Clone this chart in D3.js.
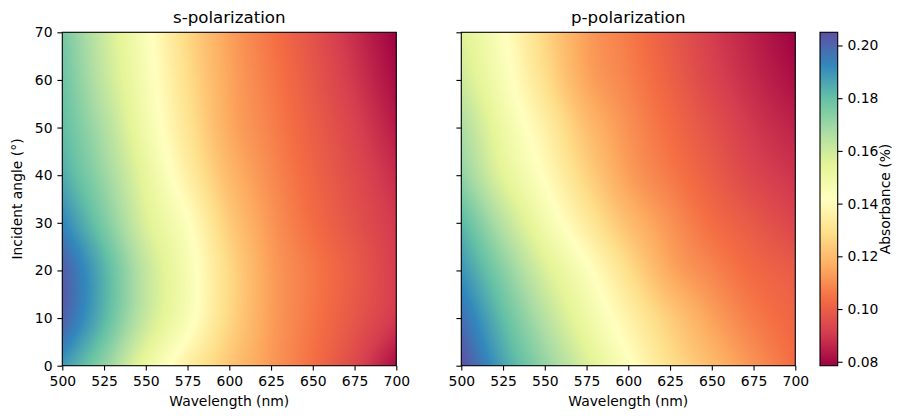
<!DOCTYPE html>
<html lang="en">
<head>
    <meta charset="UTF-8">
    <title>Absorbance maps</title>
    <script src="https://cdn.jsdelivr.net/npm/d3@7"></script>
</head>
<style>
    body { margin: 0; background: #fff; }
    svg text { font-family: "DejaVu Sans", sans-serif; fill: #000; }
    .tick line { stroke: #000; }
</style>
<body>
<svg id="chart" width="907" height="419"></svg>
<script>
    // grid the maps were read on
    let wavelengths = [500, 525, 550, 575, 600, 625, 650, 675, 700];
    let angles = [0, 10, 20, 30, 40, 50, 60, 70];

    // absorbance, one row per angle (0 -> 70), one column per wavelength
    let sPol = [
        [0.189, 0.172, 0.151, 0.135, 0.1225, 0.1125, 0.104, 0.094, 0.081],
        [0.201, 0.182, 0.161, 0.145, 0.127, 0.1135, 0.1055, 0.0978, 0.090],
        [0.202, 0.183, 0.162, 0.146, 0.1276, 0.1135, 0.106, 0.099, 0.091],
        [0.193, 0.1757, 0.1567, 0.1425, 0.124, 0.1119, 0.1035, 0.0967, 0.090],
        [0.185, 0.170, 0.1527, 0.1355, 0.1195, 0.1097, 0.1017, 0.0947, 0.0875],
        [0.181, 0.166, 0.1483, 0.1313, 0.116, 0.1077, 0.0999, 0.0925, 0.084],
        [0.179, 0.162, 0.1458, 0.129, 0.115, 0.1064, 0.0982, 0.0899, 0.081],
        [0.177, 0.160, 0.144, 0.127, 0.114, 0.105, 0.0965, 0.0877, 0.0785]
    ];
    let pPol = [
        [0.205, 0.1866, 0.1717, 0.157, 0.1431, 0.1295, 0.1198, 0.1113, 0.1035],
        [0.198, 0.1806, 0.1646, 0.150, 0.1366, 0.1242, 0.1142, 0.1067, 0.1015],
        [0.190, 0.1735, 0.157, 0.1435, 0.129, 0.1157, 0.1086, 0.1027, 0.099],
        [0.182, 0.1641, 0.148, 0.1337, 0.1205, 0.1112, 0.1037, 0.0984, 0.093],
        [0.172, 0.1547, 0.1408, 0.126, 0.1137, 0.1063, 0.0997, 0.0933, 0.089],
        [0.167, 0.150, 0.1358, 0.1207, 0.1109, 0.1034, 0.0965, 0.090, 0.0855],
        [0.160, 0.1454, 0.1296, 0.1151, 0.108, 0.1007, 0.0931, 0.087, 0.0815],
        [0.156, 0.1426, 0.1264, 0.1134, 0.1063, 0.0987, 0.091, 0.0848, 0.0785]
    ];

    let titles = ['s-polarization', 'p-polarization'];
    let xTicks = [500, 525, 550, 575, 600, 625, 650, 675, 700];
    let yTicks = [0, 10, 20, 30, 40, 50, 60, 70];
    let cbarTicks = [0.08, 0.10, 0.12, 0.14, 0.16, 0.18, 0.20];

    // matplotlib "Spectral", low -> high
    let spectral = ['#9e0142', '#d53e4f', '#f46d43', '#fdae61', '#fee08b', '#ffffbf',
        '#e6f598', '#abdda4', '#66c2a5', '#3288bd', '#5e4fa2'];

    let plotTop = 32.3, plotBottom = 365.7;
    let panels = [{left: 62.3, right: 396.3, data: sPol}, {left: 461.3, right: 795.3, data: pPol}];
    let cbLeft = 820, cbRight = 837.7;
    let fs = 13.9;

    let vmin = d3.min([...sPol.flat(), ...pPol.flat()]);
    let vmax = d3.max([...sPol.flat(), ...pPol.flat()]);

    let color = d3.scaleLinear()
        .domain(spectral.map((c, i) => vmin + i * (vmax - vmin) / 10))
        .range(spectral)
        .clamp(true);

    // lookup table so the pixel loop is cheap
    let lut = d3.range(1024).map(i => d3.rgb(color(vmin + i / 1023 * (vmax - vmin))));

    let svg = d3.select('#chart');

    // smooth shading between the read grid points (cubic along each direction)
    function cubic(vals, coords, v) {
        let n = vals.length;
        let k = Math.max(0, Math.min(n - 2, d3.bisectRight(coords, v) - 1));
        let t = (v - coords[k]) / (coords[k + 1] - coords[k]);
        let p0 = vals[Math.max(k - 1, 0)], p1 = vals[k], p2 = vals[k + 1], p3 = vals[Math.min(k + 2, n - 1)];
        let m1 = (p2 - p0) / (k === 0 ? 1 : 2), m2 = (p3 - p1) / (k + 2 > n - 1 ? 1 : 2);
        let t2 = t * t, t3 = t2 * t;
        return (2 * t3 - 3 * t2 + 1) * p1 + (t3 - 2 * t2 + t) * m1 + (-2 * t3 + 3 * t2) * p2 + (t3 - t2) * m2;
    }

    function heatImage(data, w, h) {
        let x = d3.scaleLinear().domain([500, 700]).range([0, w]);
        let y = d3.scaleLinear().domain([0, 70]).range([h, 0]);
        let canvas = document.createElement('canvas');
        canvas.width = w; canvas.height = h;
        let ctx = canvas.getContext('2d');
        let img = ctx.createImageData(w, h);
        for (let i = 0; i < w; i++) {
            let wl = x.invert(i + 0.5);
            let col = data.map(row => cubic(row, wavelengths, wl));
            for (let j = 0; j < h; j++) {
                let v = cubic(col, angles, y.invert(j + 0.5));
                let idx = Math.round(Math.max(0, Math.min(1, (v - vmin) / (vmax - vmin))) * 1023);
                let c = lut[idx];
                let p = (j * w + i) * 4;
                img.data[p] = c.r; img.data[p + 1] = c.g; img.data[p + 2] = c.b; img.data[p + 3] = 255;
            }
        }
        ctx.putImageData(img, 0, 0);
        return canvas.toDataURL();
    }

    panels.forEach((p, pi) => {
        let w = Math.round(p.right - p.left), h = Math.round(plotBottom - plotTop);
        let x = d3.scaleLinear().domain([500, 700]).range([p.left, p.right]);
        let y = d3.scaleLinear().domain([0, 70]).range([plotBottom, plotTop]);

        svg.append('image')
            .attr('x', p.left).attr('y', plotTop)
            .attr('width', p.right - p.left).attr('height', plotBottom - plotTop)
            .attr('preserveAspectRatio', 'none')
            .attr('href', heatImage(p.data, w, h));

        svg.append('rect')
            .attr('x', p.left).attr('y', plotTop)
            .attr('width', p.right - p.left).attr('height', plotBottom - plotTop)
            .attr('fill', 'none').attr('stroke', '#000').attr('stroke-width', 1.1);

        let gx = svg.append('g')
            .attr('transform', 'translate(0,' + plotBottom + ')')
            .call(d3.axisBottom(x).tickValues(xTicks).tickSize(4.9).tickPadding(5.5).tickFormat(d3.format('d')));
        let gy = svg.append('g')
            .attr('transform', 'translate(' + p.left + ',0)')
            .call(d3.axisLeft(y).tickValues(yTicks).tickSize(4.9).tickPadding(4.9)
                .tickFormat(pi === 0 ? d3.format('d') : () => ''));
        [gx, gy].forEach(g => {
            g.select('.domain').remove();
            g.selectAll('.tick line').attr('stroke-width', 1.1);
            g.selectAll('text').attr('font-size', fs).attr('font-family', '"DejaVu Sans", sans-serif').attr('fill', '#000');
        });

        svg.append('text')
            .attr('x', (p.left + p.right) / 2).attr('y', 23)
            .attr('text-anchor', 'middle').attr('font-size', 16.67)
            .text(titles[pi]);

        svg.append('text')
            .attr('x', (p.left + p.right) / 2).attr('y', 406)
            .attr('text-anchor', 'middle').attr('font-size', fs)
            .text('Wavelength (nm)');
    });

    svg.append('text')
        .attr('transform', 'translate(22,' + (plotTop + plotBottom) / 2 + ') rotate(-90)')
        .attr('text-anchor', 'middle').attr('font-size', fs)
        .text('Incident angle (°)');

    // colorbar
    let grad = svg.append('defs').append('linearGradient')
        .attr('id', 'cbar').attr('x1', 0).attr('y1', 1).attr('x2', 0).attr('y2', 0);
    grad.selectAll('stop')
        .data(spectral)
        .enter().append('stop')
        .attr('offset', (d, i) => i / 10)
        .attr('stop-color', d => d);

    svg.append('rect')
        .attr('x', cbLeft).attr('y', plotTop)
        .attr('width', cbRight - cbLeft).attr('height', plotBottom - plotTop)
        .attr('fill', 'url(#cbar)').attr('stroke', '#000').attr('stroke-width', 1.1);

    let cy = d3.scaleLinear().domain([vmin, vmax]).range([plotBottom, plotTop]);
    let gc = svg.append('g')
        .attr('transform', 'translate(' + cbRight + ',0)')
        .call(d3.axisRight(cy).tickValues(cbarTicks).tickSize(4.9).tickPadding(4.9).tickFormat(d3.format('.2f')));
    gc.select('.domain').remove();
    gc.selectAll('.tick line').attr('stroke-width', 1.1);
    gc.selectAll('text').attr('font-size', fs).attr('font-family', '"DejaVu Sans", sans-serif').attr('fill', '#000');

    svg.append('text')
        .attr('transform', 'translate(890,' + (plotTop + plotBottom) / 2 + ') rotate(-90)')
        .attr('text-anchor', 'middle').attr('font-size', fs)
        .text('Absorbance (%)');
</script>
</body>
</html>
